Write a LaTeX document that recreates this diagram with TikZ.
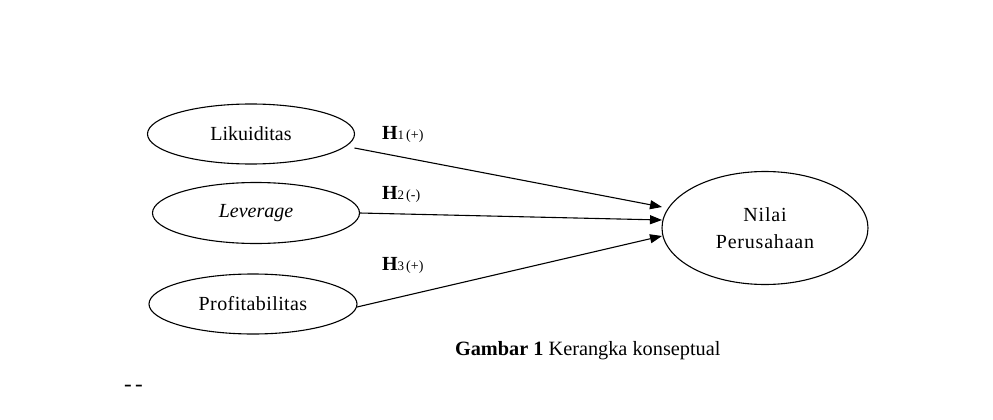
\documentclass[tikz,border=0pt]{standalone}
\usepackage{fontspec}
\setmainfont{Liberation Serif}
\usetikzlibrary{arrows.meta,shapes.geometric}
\begin{document}
\begin{tikzpicture}[x=1pt,y=-1pt,
  every node/.style={inner sep=0pt,outer sep=0pt},
  oval/.style={draw,ellipse,line width=1.1pt,font=\fontsize{20}{27}\selectfont,align=center},
  arr/.style={line width=1.1pt,-{Triangle[length=12pt,width=9pt]}},
  hlab/.style={anchor=west}]
\useasboundingbox (0,0) rectangle (993,420);
\fill[white] (0,0) rectangle (993,420);
\node[oval,minimum width=207pt,minimum height=60pt] (L) at (251,134) {Likuiditas};
\node[oval,minimum width=207pt,minimum height=61pt] (V) at (256,213) {\itshape Leverage};
\node[oval,minimum width=208pt,minimum height=60pt] (P) at (253,304) {\addfontfeature{LetterSpace=2}Profitabilitas};
\node[oval,minimum width=206pt,minimum height=113pt] (N) at (765,228) {\addfontfeature{LetterSpace=4}Nilai\\\addfontfeature{LetterSpace=4}Perusahaan};
\draw[arr] ([yshift=-14pt]L.east) -- ([yshift=21pt]N.west);
\draw[arr] (V.east) -- ([yshift=8pt]N.west);
\draw[arr] ([yshift=-3pt]P.east) -- ([yshift=-8pt]N.west);
\node[hlab] (h1) at (382,134) {\fontsize{20}{20}\selectfont\bfseries H\fontsize{13}{13}\mdseries\selectfont 1\,\fontsize{14}{14}\selectfont(+)};
\node[hlab] (h2) at (382,194) {\fontsize{20}{20}\selectfont\bfseries H\fontsize{13}{13}\mdseries\selectfont 2\,\fontsize{14}{14}\selectfont(-)};
\node[hlab] (h3) at (382,265) {\fontsize{20}{20}\selectfont\bfseries H\fontsize{13}{13}\mdseries\selectfont 3\,\fontsize{14}{14}\selectfont(+)};
\node[anchor=west] (cap) at (455,351) {\fontsize{20.3}{22}\selectfont\textbf{Gambar 1} Kerangka konseptual};
\node[anchor=west] (dd) at (124,388) {\fontsize{23}{23}\selectfont\addfontfeature{LetterSpace=15}-{}-};
\end{tikzpicture}
\end{document}
